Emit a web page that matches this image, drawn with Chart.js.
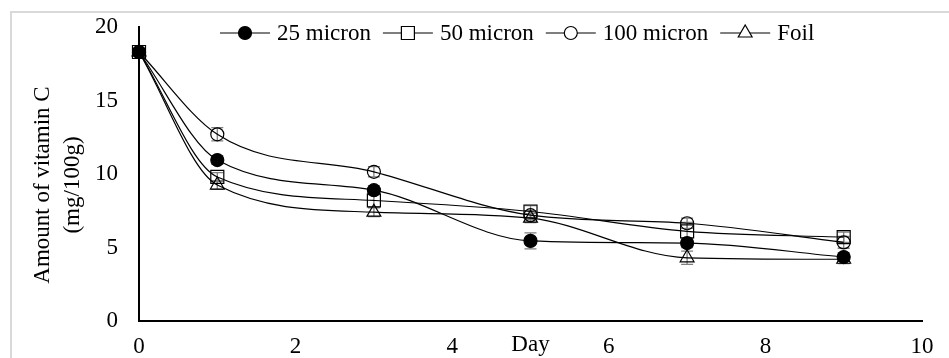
<!DOCTYPE html>
<html lang="en">
<head>
<meta charset="UTF-8">
<title>Vitamin C content</title>
<script src="https://cdn.jsdelivr.net/npm/chart.js"></script>
<style>
  html, body { margin: 0; padding: 0; background: #fff; }
  #wrap { width: 949px; height: 358px; }
</style>
</head>
<body>
<div id="wrap"><canvas id="vitChart" width="949" height="358"></canvas></div>
<script>
// storage days and measured vitamin C (mg/100g) for each wrap thickness
const days = [0, 1, 3, 5, 7, 9];
const seriesNames = ["25 micron", "50 micron", "100 micron", "Foil"];
const micron25 = [18.3, 10.95, 8.9, 5.45, 5.3, 4.35];
const micron50 = [18.3, 9.8, 8.2, 7.45, 6.1, 5.7];
const micron100 = [18.3, 12.7, 10.15, 7.2, 6.65, 5.35];
const foil = [18.3, 9.25, 7.4, 7.0, 4.3, 4.2];
// standard error, +/- around each mean
const err25 = [0.2, 0.3, 0.3, 0.55, 0.3, 0.3];
const err50 = [0.2, 0.3, 0.45, 0.4, 0.6, 0.35];
const err100 = [0.2, 0.45, 0.35, 0.3, 0.35, 0.4];
const errFoil = [0.2, 0.3, 0.3, 0.3, 0.45, 0.3];
const xTicks = [0, 2, 4, 6, 8, 10];
const yTicks = [0, 5, 10, 15, 20];
const yTitle = ["Amount of vitamin C", "(mg/100g)"];
const xTitle = "Day";

const FONT = "'Liberation Serif', 'Times New Roman', serif";
const FONT_SIZE = 23;

const styles = [
  { pointStyle: "circle", radius: 6.5, fill: "#000" },
  { pointStyle: "rect", radius: 9.2, fill: "rgba(0,0,0,0)" },
  { pointStyle: "circle", radius: 6.5, fill: "rgba(0,0,0,0)" },
  { pointStyle: "triangle", radius: 8, fill: "rgba(0,0,0,0)" }
];
const values = [micron25, micron50, micron100, foil];
const errors = [err25, err50, err100, errFoil];

function drawMarker(ctx, style, x, y, r, fill) {
  ctx.beginPath();
  if (style === "circle") {
    ctx.arc(x, y, r, 0, Math.PI * 2);
  } else if (style === "rect") {
    const s = r * Math.SQRT1_2;
    ctx.rect(x - s, y - s, 2 * s, 2 * s);
  } else {
    ctx.moveTo(x, y - r);
    ctx.lineTo(x + r * 0.866, y + r / 2);
    ctx.lineTo(x - r * 0.866, y + r / 2);
    ctx.closePath();
  }
  ctx.fillStyle = fill;
  ctx.fill();
  ctx.stroke();
}

// light grey frame around the figure
const framePlugin = {
  id: "frame",
  beforeDraw(chart) {
    const ctx = chart.ctx;
    ctx.save();
    ctx.strokeStyle = "#d9d9d9";
    ctx.lineWidth = 2;
    ctx.strokeRect(11, 12, 2000, 2000);
    ctx.restore();
  }
};

// vertical error bars with caps, drawn under the lines and markers
const errorBarPlugin = {
  id: "errorBars",
  beforeDatasetsDraw(chart) {
    const ctx = chart.ctx;
    const xs = chart.scales.x, ys = chart.scales.y;
    ctx.save();
    ctx.strokeStyle = "#7f7f7f";
    ctx.lineWidth = 1.3;
    chart.data.datasets.forEach((ds, di) => {
      ds.data.forEach((p, i) => {
        const e = errors[di][i];
        const px = xs.getPixelForValue(p.x);
        const top = ys.getPixelForValue(p.y + e);
        const bot = ys.getPixelForValue(p.y - e);
        ctx.beginPath();
        ctx.moveTo(px, top); ctx.lineTo(px, bot);
        ctx.moveTo(px - 6, top); ctx.lineTo(px + 6, top);
        ctx.moveTo(px - 6, bot); ctx.lineTo(px + 6, bot);
        ctx.stroke();
      });
    });
    ctx.restore();
  }
};

// axis titles and the legend row across the top of the plot
const labelPlugin = {
  id: "labels",
  afterDraw(chart) {
    const ctx = chart.ctx;
    const xs = chart.scales.x, ys = chart.scales.y;
    ctx.save();
    ctx.font = FONT_SIZE + "px " + FONT;
    ctx.fillStyle = "#000";

    // y title, two rotated lines
    const cy = (ys.top + ys.bottom) / 2 + 11;
    ctx.textAlign = "center";
    ctx.textBaseline = "middle";
    yTitle.forEach((t, i) => {
      ctx.save();
      ctx.translate(43 + i * 30, cy);
      ctx.rotate(-Math.PI / 2);
      ctx.fillText(t, 0, 0);
      ctx.restore();
    });

    // x title sits in the tick label row
    ctx.textBaseline = "top";
    ctx.fillText(xTitle, xs.getPixelForValue(5), xs.top + 12);

    // legend
    let lx = 220;
    const ly = 33;
    ctx.textAlign = "left";
    ctx.textBaseline = "middle";
    ctx.strokeStyle = "#000";
    ctx.lineWidth = 1.2;
    seriesNames.forEach((name, i) => {
      ctx.beginPath();
      ctx.moveTo(lx, ly);
      ctx.lineTo(lx + 50, ly);
      ctx.stroke();
      const st = styles[i];
      drawMarker(ctx, st.pointStyle, lx + 25, ly, st.radius, st.fill === "#000" ? "#000" : "#fff");
      ctx.fillStyle = "#000";
      ctx.fillText(name, lx + 57, ly + 1);
      lx += 57 + ctx.measureText(name).width + 12;
    });
    ctx.restore();
  }
};

const datasets = seriesNames.map((name, i) => ({
  label: name,
  data: days.map((d, j) => ({ x: d, y: values[i][j] })),
  borderColor: "#000",
  borderWidth: 1.2,
  cubicInterpolationMode: "monotone",
  fill: false,
  clip: false,
  pointStyle: styles[i].pointStyle,
  pointRadius: styles[i].radius,
  pointBackgroundColor: styles[i].fill,
  pointBorderColor: "#000",
  pointBorderWidth: 1.2
}));

new Chart(document.getElementById("vitChart"), {
  type: "line",
  data: { datasets: datasets },
  options: {
    responsive: false,
    animation: false,
    devicePixelRatio: 1,
    layout: { padding: { left: 0, right: 27, top: 27, bottom: 0 } },
    plugins: {
      legend: { display: false },
      tooltip: { enabled: false }
    },
    scales: {
      x: {
        type: "linear",
        min: xTicks[0],
        max: xTicks[xTicks.length - 1],
        grid: { display: false, drawTicks: false },
        border: { color: "#000", width: 2 },
        ticks: {
          stepSize: xTicks[1] - xTicks[0],
          padding: 12,
          maxRotation: 0,
          color: "#000",
          font: { family: FONT, size: FONT_SIZE }
        },
        afterFit(scale) { scale.height = 37; }
      },
      y: {
        min: yTicks[0],
        max: yTicks[yTicks.length - 1],
        grid: { display: false, drawTicks: false },
        border: { color: "#000", width: 2 },
        ticks: {
          stepSize: yTicks[1] - yTicks[0],
          padding: 21,
          color: "#000",
          font: { family: FONT, size: FONT_SIZE }
        },
        afterFit(scale) {
          scale.width = 139;
          scale.paddingTop = 0;
          scale.paddingBottom = 0;
        }
      }
    }
  },
  plugins: [framePlugin, errorBarPlugin, labelPlugin]
});
</script>
</body>
</html>
